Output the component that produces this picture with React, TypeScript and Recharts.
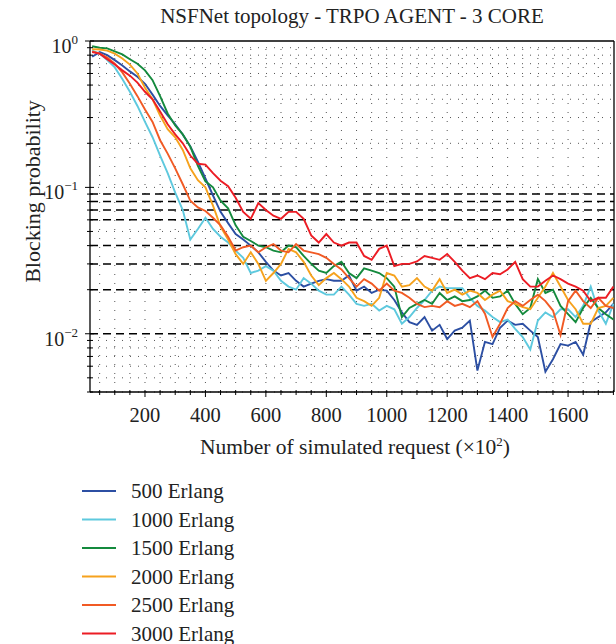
import React from 'react';
import { LineChart, Line, XAxis, YAxis, ReferenceLine, Legend } from 'recharts';

const FONT = '"Liberation Serif", "Times New Roman", serif';

const requests = [25, 50, 75, 100, 125, 150, 175, 200, 225, 250, 275, 300, 325, 350, 375, 400, 425, 450, 475, 500, 525, 550, 575, 600, 625, 650, 675, 700, 725, 750, 775, 800, 825, 850, 875, 900, 925, 950, 975, 1000, 1025, 1050, 1075, 1100, 1125, 1150, 1175, 1200, 1225, 1250, 1275, 1300, 1325, 1350, 1375, 1400, 1425, 1450, 1475, 1500, 1525, 1550, 1575, 1600, 1625, 1650, 1675, 1700, 1725, 1750];

const erlang500 = [0.78, 0.84, 0.80, 0.74, 0.68, 0.62, 0.57, 0.51, 0.43, 0.36,
  0.31, 0.27, 0.23, 0.19, 0.15, 0.115, 0.088, 0.068, 0.057, 0.048,
  0.044, 0.040, 0.036, 0.031, 0.027, 0.025, 0.026, 0.023, 0.021, 0.022,
  0.023, 0.0236, 0.023, 0.023, 0.025, 0.0197, 0.021, 0.019, 0.020, 0.0197,
  0.017, 0.014, 0.012, 0.0115, 0.013, 0.0105, 0.0115, 0.0092, 0.0105, 0.011,
  0.0123, 0.0056, 0.0088, 0.0085, 0.011, 0.0123, 0.0115, 0.0117, 0.0105, 0.0095,
  0.0055, 0.0067, 0.0085, 0.0083, 0.0088, 0.0072, 0.012, 0.013, 0.014, 0.016];

const erlang1000 = [0.86, 0.82, 0.74, 0.66, 0.55, 0.45, 0.36, 0.28, 0.22, 0.165,
  0.125, 0.092, 0.07, 0.044, 0.052, 0.062, 0.052, 0.046, 0.042, 0.037,
  0.033, 0.026, 0.027, 0.029, 0.027, 0.023, 0.021, 0.020, 0.024, 0.022,
  0.0197, 0.0185, 0.0185, 0.021, 0.0185, 0.016, 0.0155, 0.016, 0.0144, 0.0155,
  0.0147, 0.0117, 0.013, 0.015, 0.017, 0.0197, 0.021, 0.0205, 0.0205, 0.0205,
  0.0176, 0.0155, 0.0144, 0.013, 0.012, 0.0125, 0.0108, 0.0095, 0.0078, 0.0123,
  0.014, 0.013, 0.0147, 0.0147, 0.013, 0.0155, 0.021, 0.0144, 0.0117, 0.016];

const erlang1500 = [0.92, 0.90, 0.89, 0.85, 0.81, 0.75, 0.70, 0.63, 0.54, 0.42,
  0.32, 0.265, 0.23, 0.19, 0.14, 0.11, 0.10, 0.081, 0.072, 0.055,
  0.046, 0.043, 0.040, 0.039, 0.037, 0.036, 0.040, 0.039, 0.034, 0.030,
  0.027, 0.026, 0.029, 0.031, 0.026, 0.024, 0.028, 0.027, 0.026, 0.024,
  0.021, 0.013, 0.015, 0.016, 0.017, 0.016, 0.019, 0.017, 0.018, 0.0167,
  0.017, 0.018, 0.0197, 0.0176, 0.018, 0.0197, 0.016, 0.0136, 0.015, 0.0236,
  0.019, 0.020, 0.0155, 0.0136, 0.012, 0.015, 0.0176, 0.015, 0.0136, 0.0125];

const erlang2000 = [0.88, 0.875, 0.86, 0.82, 0.76, 0.69, 0.60, 0.48, 0.40, 0.31,
  0.25, 0.22, 0.18, 0.135, 0.112, 0.10, 0.075, 0.054, 0.044, 0.035,
  0.030, 0.036, 0.030, 0.023, 0.026, 0.030, 0.038, 0.036, 0.031, 0.025,
  0.0215, 0.024, 0.026, 0.0236, 0.021, 0.0176, 0.0167, 0.0155, 0.0176, 0.026,
  0.025, 0.021, 0.0215, 0.024, 0.021, 0.0197, 0.0236, 0.019, 0.020, 0.0185,
  0.0197, 0.019, 0.017, 0.0185, 0.0197, 0.0167, 0.016, 0.0152, 0.0147, 0.0176,
  0.021, 0.026, 0.021, 0.017, 0.0147, 0.0117, 0.0117, 0.015, 0.0155, 0.0176];

const erlang2500 = [0.85, 0.82, 0.77, 0.70, 0.61, 0.51, 0.42, 0.34, 0.28, 0.21,
  0.17, 0.135, 0.105, 0.081, 0.073, 0.069, 0.062, 0.055, 0.046, 0.037,
  0.039, 0.040, 0.036, 0.039, 0.041, 0.037, 0.036, 0.041, 0.037, 0.036,
  0.035, 0.033, 0.030, 0.0275, 0.024, 0.021, 0.0236, 0.022, 0.0197, 0.022,
  0.0197, 0.019, 0.0176, 0.016, 0.0152, 0.0155, 0.0152, 0.0167, 0.0155, 0.016,
  0.0152, 0.0167, 0.0137, 0.0095, 0.0117, 0.015, 0.0167, 0.0155, 0.017, 0.0185,
  0.0167, 0.0144, 0.0098, 0.0167, 0.0197, 0.0167, 0.015, 0.0176, 0.0155, 0.015];

const erlang3000 = [0.84, 0.82, 0.75, 0.69, 0.63, 0.58, 0.52, 0.45, 0.40, 0.33,
  0.27, 0.23, 0.20, 0.165, 0.145, 0.143, 0.125, 0.111, 0.102, 0.085,
  0.068, 0.061, 0.078, 0.070, 0.064, 0.061, 0.068, 0.068, 0.061, 0.047,
  0.042, 0.048, 0.042, 0.040, 0.042, 0.042, 0.034, 0.032, 0.038, 0.040,
  0.029, 0.030, 0.030, 0.0312, 0.034, 0.033, 0.032, 0.035, 0.031, 0.027,
  0.024, 0.025, 0.0236, 0.026, 0.0255, 0.0275, 0.031, 0.0236, 0.021, 0.021,
  0.023, 0.025, 0.0236, 0.022, 0.021, 0.0197, 0.0167, 0.0176, 0.0176, 0.021];

const seriesKeys = ['e500', 'e1000', 'e1500', 'e2000', 'e2500', 'e3000'];
const seriesNames = ['500 Erlang', '1000 Erlang', '1500 Erlang', '2000 Erlang', '2500 Erlang', '3000 Erlang'];
const seriesColors = ['#2c4fa3', '#5ec9de', '#148a3d', '#f6a21d', '#f15a24', '#ec1c24'];
const seriesValues = [erlang500, erlang1000, erlang1500, erlang2000, erlang2500, erlang3000];

const xTickValues = [50, 100, 150, 200, 250, 300, 350, 400, 450, 500, 550, 600, 650, 700, 750, 800, 850, 900, 950, 1000, 1050, 1100, 1150, 1200, 1250, 1300, 1350, 1400, 1450, 1500, 1550, 1600, 1650, 1700, 1750];
const xTickLabels = [200, 400, 600, 800, 1000, 1200, 1400, 1600];
const yTickValues = [0.004, 0.005, 0.006, 0.007, 0.008, 0.009, 0.01, 0.02, 0.03, 0.04, 0.05, 0.06, 0.07, 0.08, 0.09, 0.1, 0.2, 0.3, 0.4, 0.5, 0.6, 0.7, 0.8, 0.9, 1];
const yTickLabels = [{ value: 1, exp: '0' }, { value: 0.1, exp: '\u22121' }, { value: 0.01, exp: '\u22122' }];
const dashedLevels = [0.01, 0.02, 0.03, 0.04, 0.06, 0.07, 0.08, 0.09];
const dottedLevels = [0.004, 0.005, 0.006, 0.007, 0.008, 0.009, 0.05, 0.1, 0.2, 0.3, 0.4, 0.5, 0.6, 0.7, 0.8, 0.9];
const verticalGrid = [50, 100, 150, 200, 250, 300, 350, 400, 450, 500, 550, 600, 650, 700, 750, 800, 850, 900, 950, 1000, 1050, 1100, 1150, 1200, 1250, 1300, 1350, 1400, 1450, 1500, 1550, 1600, 1650, 1700];

const X_DOMAIN = [18, 1752];
const Y_DOMAIN = [0.004, 1];

const data = requests.map((x, i) => {
  const row: Record<string, number> = { x };
  seriesKeys.forEach((k, s) => { row[k] = seriesValues[s][i]; });
  return row;
});

const XTick = (props: any) => {
  const { x, y, payload } = props;
  const v = payload.value;
  const labeled = xTickLabels.includes(v);
  return (
    <g>
      <line x1={x} x2={x} y1={y - 2} y2={y + (labeled ? 5 : 3)} stroke="#000" strokeWidth={1} />
      {labeled && (
        <text x={x} y={y + 30} textAnchor="middle" fontFamily={FONT} fontSize={20.5} fill="#222">{v}</text>
      )}
    </g>
  );
};

const YTick = (props: any) => {
  const { x, y, payload } = props;
  const v = payload.value;
  const lab = yTickLabels.find((t) => Math.abs(t.value - v) < 1e-9);
  return (
    <g>
      <line x1={x + (lab ? 4 : 3)} x2={x - (lab ? 5 : 3)} y1={y} y2={y} stroke="#000" strokeWidth={1} />
      {lab && (
        <text x={x - 12} y={y + 12} textAnchor="end" fontFamily={FONT} fontSize={20} fill="#222">
          10<tspan dy={-9} fontSize={13}>{lab.exp}</tspan>
        </text>
      )}
    </g>
  );
};

const LegendContent = () => (
  <svg width={280} height={174} style={{ display: 'block' }}>
    {seriesNames.map((name, i) => (
      <g key={name}>
        <line x1={82} x2={116} y1={21 + i * 28.5} y2={21 + i * 28.5} stroke={seriesColors[i]} strokeWidth={2} />
        <text x={131} y={28 + i * 28.5} fontFamily={FONT} fontSize={21} fill="#222">{name}</text>
      </g>
    ))}
  </svg>
);

export default function App() {
  return (
    <div style={{ width: 616, height: 644, position: 'relative', background: '#fff' }}>
      <style>{'body{margin:0;overflow:hidden;background:#fff}'}</style>
      <LineChart width={616} height={644} data={data} margin={{ top: 41, right: 2, bottom: 0, left: 0 }}>
        {dottedLevels.map((v) => (
          <ReferenceLine key={'hd' + v} y={v} stroke="#555" strokeWidth={1} strokeDasharray="1 7" />
        ))}
        {verticalGrid.map((v) => (
          <ReferenceLine key={'vd' + v} x={v} stroke="#555" strokeWidth={1} strokeDasharray="1 8" />
        ))}
        {dashedLevels.map((v) => (
          <ReferenceLine key={'dl' + v} y={v} stroke="#000" strokeWidth={1.5} strokeDasharray="8 5" />
        ))}
        <ReferenceLine y={1} stroke="#000" strokeWidth={1.3} />
        <ReferenceLine x={1752} stroke="#000" strokeWidth={1.3} />
        <XAxis
          type="number"
          dataKey="x"
          domain={X_DOMAIN}
          ticks={xTickValues}
          interval={0}
          allowDataOverflow
          height={252}
          tickSize={0}
          tickMargin={0}
          tickLine={false}
          axisLine={{ stroke: '#000', strokeWidth: 1.3 }}
          tick={(p: any) => <XTick {...p} />}
        />
        <YAxis
          type="number"
          scale="log"
          domain={Y_DOMAIN}
          ticks={yTickValues}
          interval={0}
          allowDataOverflow
          width={90}
          tickSize={0}
          tickMargin={0}
          tickLine={false}
          axisLine={{ stroke: '#000', strokeWidth: 1.3 }}
          tick={(p: any) => <YTick {...p} />}
        />
        {seriesKeys.map((k, i) => (
          <Line
            key={k}
            type="linear"
            dataKey={k}
            name={seriesNames[i]}
            stroke={seriesColors[i]}
            strokeWidth={1.9}
            dot={false}
            activeDot={false}
            isAnimationActive={false}
          />
        ))}
        <Legend
          layout="vertical"
          align="center"
          verticalAlign="middle"
          wrapperStyle={{ left: 0, top: 470, width: 280, height: 174 }}
          content={() => <LegendContent />}
        />
        <text x={352} y={23} textAnchor="middle" fontFamily={FONT} fontSize={21} fill="#222">
          NSFNet topology - TRPO AGENT - 3 CORE
        </text>
        <text x={355} y={454} textAnchor="middle" fontFamily={FONT} fontSize={21.5} fill="#222">
          Number of simulated request (×10<tspan dy={-8} fontSize={13}>2</tspan><tspan dy={8}>)</tspan>
        </text>
        <text x={39.5} y={191.5} textAnchor="middle" transform="rotate(-90 39.5 191.5)" fontFamily={FONT} fontSize={22} fill="#222">
          Blocking probability
        </text>
      </LineChart>
    </div>
  );
}
